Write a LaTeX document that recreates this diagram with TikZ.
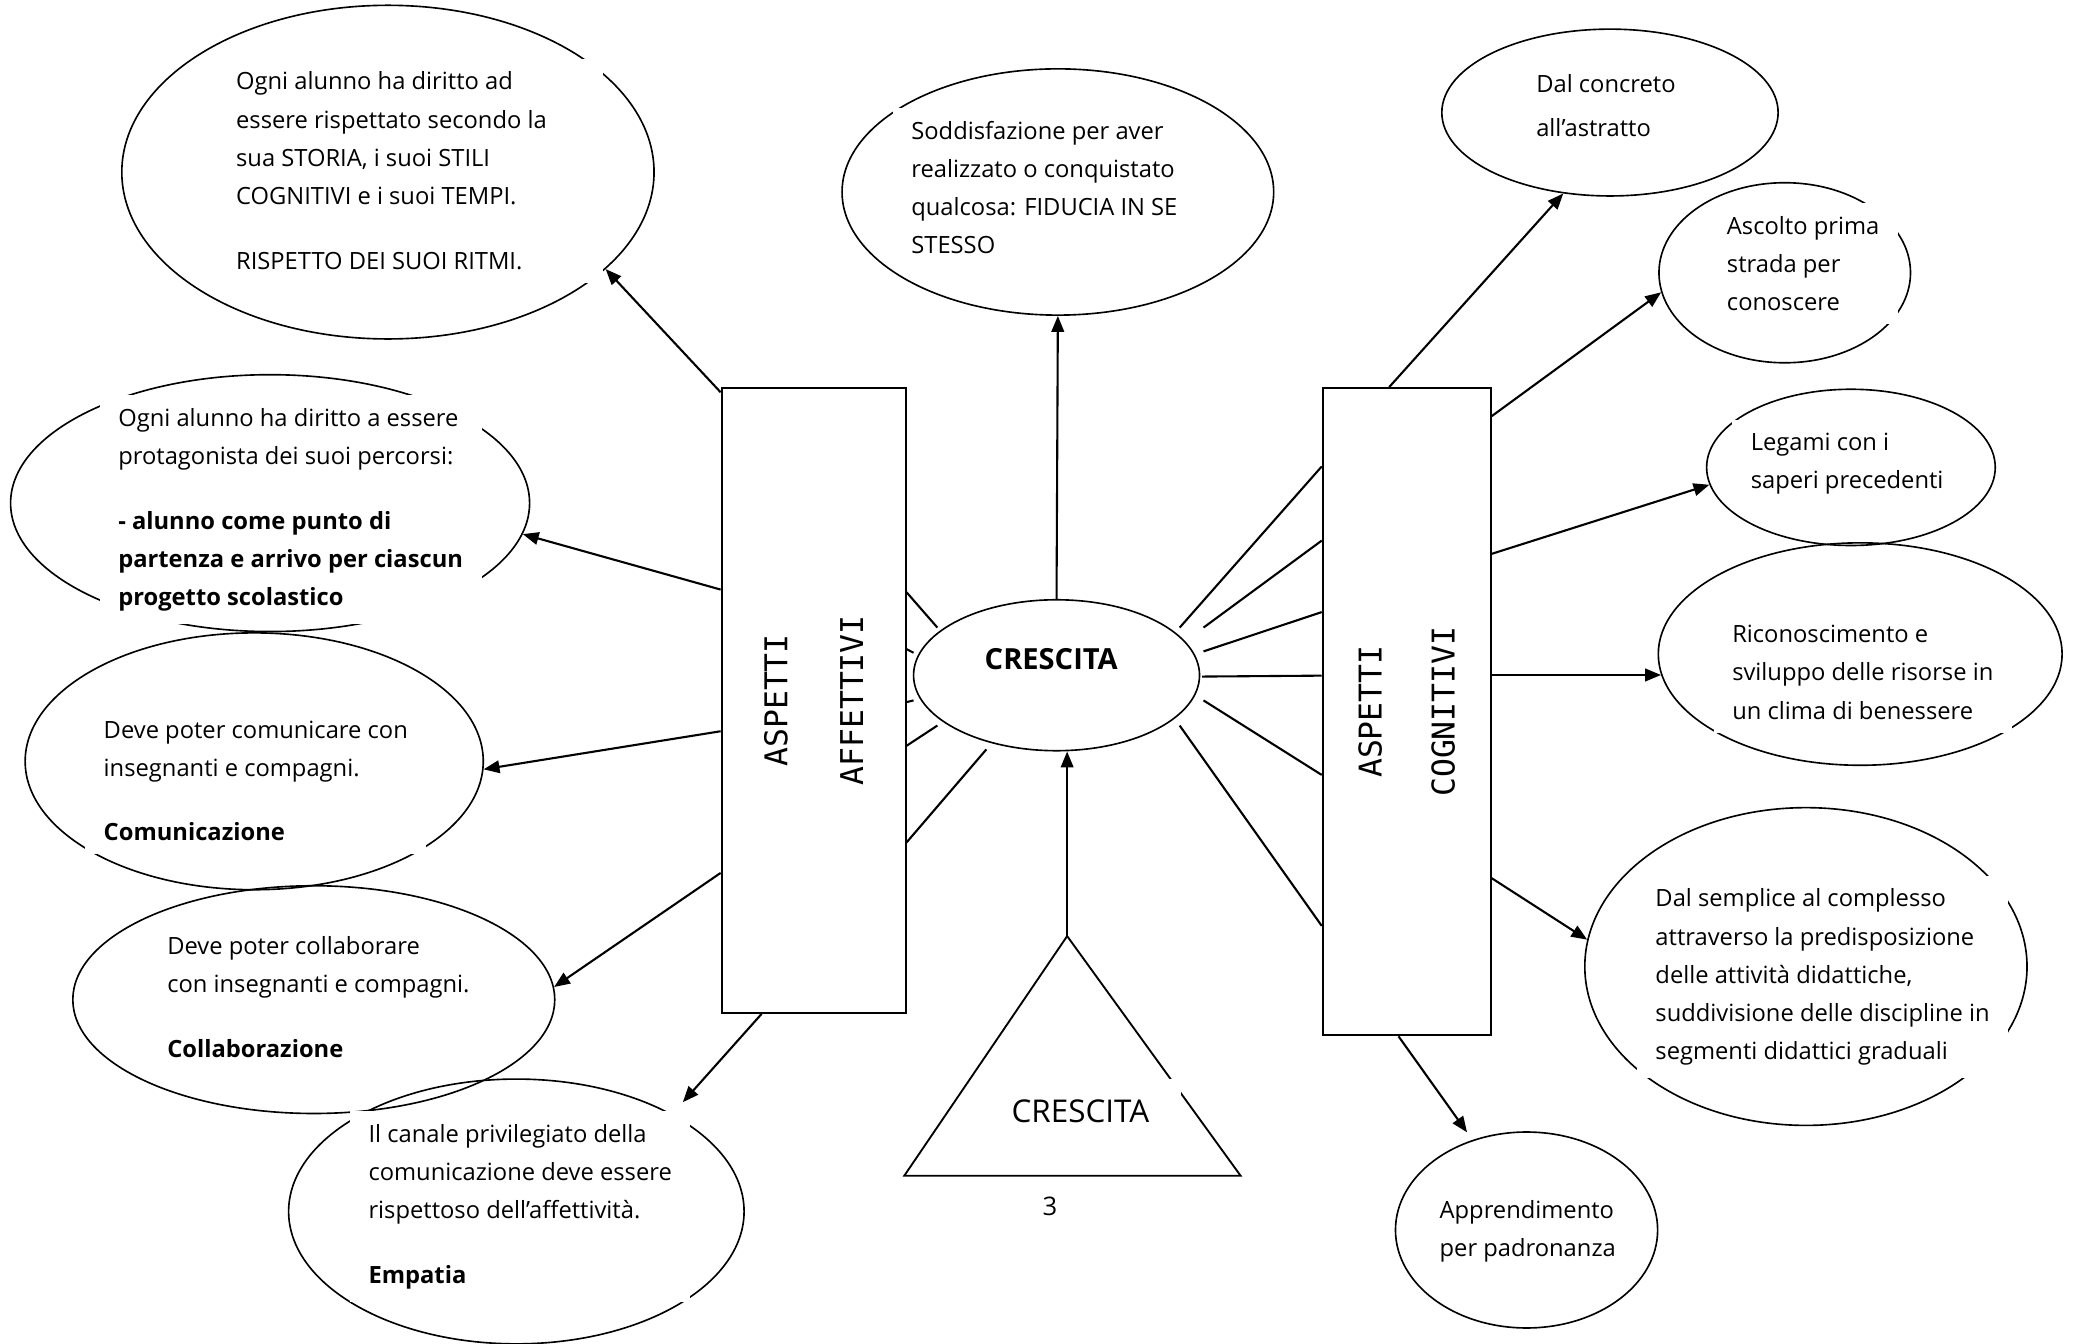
\documentclass[tikz,border=0pt]{standalone}
\usepackage{fontspec}
\setmainfont{Open Sans}
\newfontfamily\boxfont{DejaVu Sans Mono}
\usetikzlibrary{arrows.meta,positioning,shapes.geometric}
\newlength{\px}
\setlength{\px}{0.02cm}
\newcommand{\bodyfont}{\fontsize{10.2}{16.4}\selectfont}
\newcommand{\labelfont}{\boxfont\fontsize{13.5}{16}\selectfont}

\begin{document}
\begin{tikzpicture}[
        x=1\px, y=-1\px,
        bubble/.style={ellipse, draw, line width=0.7pt, inner sep=0pt},
        txt/.style={fill=white, align=left, anchor=north west, inner xsep=14\px, inner ysep=10\px, font=\bodyfont},
        column/.style={rectangle, draw, line width=0.8pt, inner sep=0pt},
        arrow/.style={-{Triangle[length=0.24cm, width=0.19cm]}, line width=0.9pt},
        spoke/.style={line width=0.9pt}
    ]
    \useasboundingbox (0,0) rectangle (1568,1015);

    % Bubbles, left side
    \node[bubble, minimum width=402\px, minimum height=252\px] (e1) at (293,130) {};
    \node[bubble, minimum width=392\px, minimum height=194\px] (e2) at (204,380) {};
    \node[bubble, minimum width=346\px, minimum height=194\px] (e3) at (192,575) {};
    \node[bubble, minimum width=364\px, minimum height=172\px] (e4) at (237,755) {};
    \node[bubble, minimum width=344\px, minimum height=200\px] (e5) at (390,915) {};
    \node[bubble, minimum width=326\px, minimum height=186\px] (e6) at (799,145) {};

    % Bubbles, right side
    \node[bubble, minimum width=254\px, minimum height=126\px] (re1) at (1216,85) {};
    \node[bubble, minimum width=190\px, minimum height=136\px] (re2) at (1348,206) {};
    \node[bubble, minimum width=218\px, minimum height=118\px] (re3) at (1398,353) {};
    \node[bubble, minimum width=305\px, minimum height=168\px] (re4) at (1405,494) {};
    \node[bubble, minimum width=334\px, minimum height=240\px] (re5) at (1364,730) {};
    \node[bubble, minimum width=198\px, minimum height=148\px] (re6) at (1153,929) {};

    % Texts
    \node[txt, text width=263\px, align=flush left] (e1txt) at (164,44) {Ogni alunno ha diritto ad\\ essere rispettato secondo la\\ sua STORIA, i suoi STILI\\ COGNITIVI e i suoi TEMPI.\\[20\px] RISPETTO DEI SUOI RITMI.};
    \node[txt] (e2txt) at (75,298) {Ogni alunno ha diritto a essere\\ protagonista dei suoi percorsi:\\[20\px] \textbf{- alunno come punto di}\\ \textbf{partenza e arrivo per ciascun}\\ \textbf{progetto scolastico}};
    \node[txt] (e3txt) at (64,534) {Deve poter comunicare con\\ insegnanti e compagni.\\[20\px] \textbf{Comunicazione}};
    \node[txt] (e4txt) at (112,697) {Deve poter collaborare\\ con insegnanti e compagni.\\[20\px] \textbf{Collaborazione}};
    \node[txt] (e5txt) at (264,839) {Il canale privilegiato della\\ comunicazione deve essere\\ rispettoso dell’affettività.\\[20\px] \textbf{Empatia}};
    \node[txt] (e6txt) at (674,81) {Soddisfazione per aver\\ realizzato o conquistato\\ qualcosa: FIDUCIA IN SE\\ STESSO};
    \node[txt] (re1txt) at (1146,46) {Dal concreto\\[4\px] all’astratto};
    \node[txt] (re2txt) at (1290,153) {Ascolto prima\\ strada per\\ conoscere};
    \node[txt] (re3txt) at (1308,317) {Legami con i\\ saperi precedenti};
    \node[txt] (re4txt) at (1294,462) {Riconoscimento e\\ sviluppo delle risorse in\\ un clima di benessere};
    \node[txt] (re5txt) at (1236,661) {Dal semplice al complesso\\ attraverso la predisposizione\\ delle attività didattiche,\\ suddivisione delle discipline in\\ segmenti didattici graduali};
    \node[txt] (re6txt) at (1073,896) {Apprendimento\\ per padronanza};

    % Columns
    \node[column, minimum width=139\px, minimum height=472\px] (affettivi) at (614.5,529) {};
    \node[rotate=90, font=\labelfont, align=center] (affettivilbl) at (affettivi.center) {ASPETTI\\[29\px]AFFETTIVI};
    \node[column, minimum width=127\px, minimum height=489\px] (cognitivi) at (1062.5,537.5) {};
    \node[rotate=90, font=\labelfont, align=center] (cognitivilbl) at (cognitivi.center) {ASPETTI\\[27\px]COGNITIVI};

    % Centre
    \node[bubble, minimum width=216\px, minimum height=114\px] (crescita) at (798,510) {};
    \node[font=\bfseries\fontsize{12.5}{14}\selectfont] (crescitalbl) at (794,498) {CRESCITA};

    % Triangle
    \coordinate (apex) at (806,707);
    \draw[line width=0.8pt] (apex) -- (937,888) -- (683,888) -- cycle;
    \node[fill=white, inner xsep=24\px, inner ysep=15\px, font=\fontsize{13.5}{15}\selectfont] (trilbl) at (816,839) {CRESCITA};
    \node[font=\fontsize{11}{13}\selectfont] (pagenum) at (793,911) {3};

    % Spokes
    \foreach \dx/\dy/\off in {-90/-36/155, -108/-17/198, -108/19/238, -90/38/271, -53/56/344}
        \draw[spoke] ([shift={(\dx,\dy)}]crescita.center) -- ([yshift=-\off\px]affettivi.north east);
    \foreach \dx/\dy/\off in {93/-36/60, 111/-36/116, 111/-18/170, 110/1/218, 111/19/293, 93/38/407}
        \draw[spoke] ([shift={(\dx,\dy)}]crescita.center) -- ([yshift=-\off\px]cognitivi.north west);

    % Arrows
    \draw[arrow] ([yshift=-4\px]affettivi.north west) -- (e1.-24);
    \draw[arrow] ([yshift=-153\px]affettivi.north west) -- (e2.-7);
    \draw[arrow] ([yshift=-260\px]affettivi.north west) -- (e3.-2);
    \draw[arrow] ([yshift=-367\px]affettivi.north west) -- (e4.3);
    \draw[arrow, shorten >=12\px] ([xshift=31\px]affettivi.south west) -- (e5.32);
    \draw[arrow] (crescita.north) -- (e6.south);
    \draw[arrow] (apex) -- (apex |- crescita.south);
    \draw[arrow] ([xshift=51\px]cognitivi.north west) -- (re1.240);
    \draw[arrow] ([yshift=-22\px]cognitivi.north east) -- (re2.189);
    \draw[arrow] ([yshift=-126\px]cognitivi.north east) -- (re3.187);
    \draw[arrow] (cognitivi.east |- re4.186) -- (re4.186);
    \draw[arrow] ([yshift=-371\px]cognitivi.north east) -- (re5.173);
    \draw[arrow, shorten >=7\px] ([xshift=58\px]cognitivi.south west) -- (re6.121);

\end{tikzpicture}
\end{document}
